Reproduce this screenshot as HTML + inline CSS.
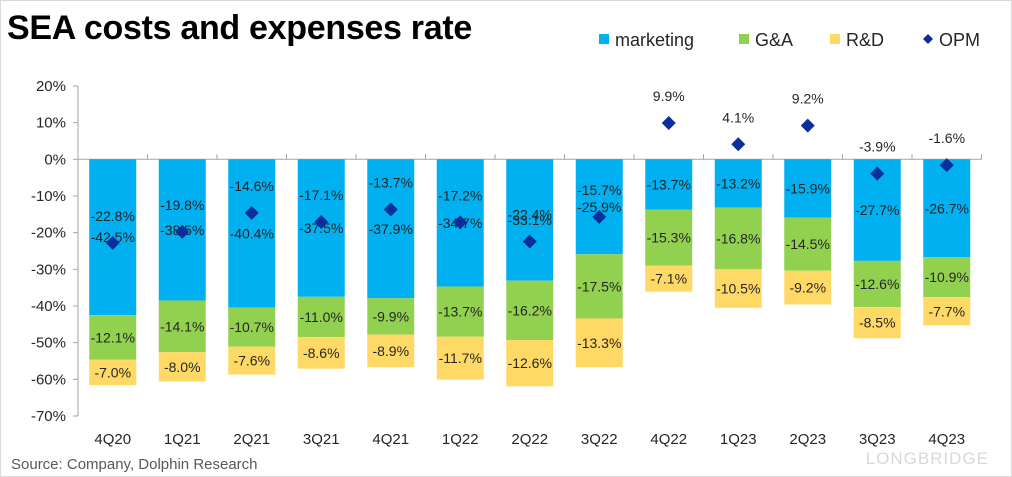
<!DOCTYPE html>
<html><head><meta charset="utf-8"><style>
html,body{margin:0;padding:0;background:#fff}
#wrap{position:relative;width:1010px;height:475px;border:1px solid #d9d9d9;overflow:hidden;font-family:"Liberation Sans",sans-serif}
#title{position:absolute;left:6px;top:8px;font-size:34px;font-weight:bold;color:#000;letter-spacing:-0.3px}
#src{position:absolute;left:10px;top:455px;font-size:15px;color:#595959}
#lb{position:absolute;right:22px;top:448px;font-size:17px;color:#d8d8d8;letter-spacing:1px}
</style></head><body>
<div id="wrap">
<div id="title">SEA costs and expenses rate</div>
<svg id="chart" width="1010" height="475" style="position:absolute;left:0;top:0"></svg>
<div id="src">Source: Company, Dolphin Research</div>
<div id="lb">LONGBRIDGE</div>
</div>
<script>
const categories=["4Q20","1Q21","2Q21","3Q21","4Q21","1Q22","2Q22","3Q22","4Q22","1Q23","2Q23","3Q23","4Q23"];
const marketing=[42.5,38.5,40.4,37.5,37.9,34.7,33.1,25.9,13.7,13.2,15.9,27.7,26.7];
const ga=[12.1,14.1,10.7,11.0,9.9,13.7,16.2,17.5,15.3,16.8,14.5,12.6,10.9];
const rd=[7.0,8.0,7.6,8.6,8.9,11.7,12.6,13.3,7.1,10.5,9.2,8.5,7.7];
const opm=[-22.8,-19.8,-14.6,-17.1,-13.7,-17.2,-22.4,-15.7,9.9,4.1,9.2,-3.9,-1.6];
const yTicks=[20,10,0,-10,-20,-30,-40,-50,-60,-70];
const NS="http://www.w3.org/2000/svg";
const svg=document.getElementById('chart');
const left=77,catW=69.5,barW=47;
function y(v){return 158.3-v*3.667;}
function cx(i){return left+catW*(i+0.5);}
function mk(t,a,txt){const e=document.createElementNS(NS,t);for(const k in a)e.setAttribute(k,a[k]);if(txt!==undefined)e.textContent=txt;svg.appendChild(e);return e;}
let ax=mk('line',{x1:left,x2:left,y1:y(20),y2:y(-70),stroke:'#a6a6a6'});


yTicks.forEach(t=>{
 let tk=mk('line',{x1:left-5,x2:left,y1:y(t),y2:y(t),stroke:'#a6a6a6'});
 
 
 let l=mk('text',{x:left-12,y:y(t)+5,'text-anchor':'end','font-size':15,fill:'#262626'},t+'%');
 
 
});
let xa=mk('line',{x1:left,x2:left+catW*13,y1:y(0),y2:y(0),stroke:'#a6a6a6'});


const fmt=v=>v.toFixed(1)+'%';
categories.forEach((c,i)=>{
 let tk=mk('line',{x1:left+catW*(i+1),x2:left+catW*(i+1),y1:y(0),y2:y(0)-5,stroke:'#a6a6a6'});
 
 
 let cl=mk('text',{x:cx(i),y:443,'text-anchor':'middle','font-size':15,fill:'#262626'},c);
 
 
 const segs=[[marketing[i],'#00b0f0','bar-marketing'],[ga[i],'#92d050','bar-ga'],[rd[i],'#ffd966','bar-rd']];
 let base=0;
 segs.forEach(s=>{
  const t=y(-base),b=y(-(base+s[0]));
  let r=mk('rect',{x:cx(i)-barW/2,y:t,width:barW,height:b-t,fill:s[1]});
  
  
  let l=mk('text',{x:cx(i),y:(t+b)/2+5,'text-anchor':'middle','font-size':14,fill:'#262626'},fmt(-s[0]));
  
  
  base+=s[0];
 });
});
categories.forEach((c,i)=>{
 const py=y(opm[i]),px=cx(i);
 let d=mk('polygon',{points:`${px},${py-7} ${px+7},${py} ${px},${py+7} ${px-7},${py}`,fill:'#0a2f9c'});
 
 
 let l=mk('text',{x:px,y:py-22,'text-anchor':'middle','font-size':14,fill:'#262626'},fmt(opm[i]));
 
 
});
const leg=[['marketing','#00b0f0',598,'sq'],['G&A','#92d050',738,'sq'],['R&D','#ffd966',829,'sq'],['OPM','#0a2f9c',922,'dm']];
leg.forEach(L=>{
 if(L[3]=='sq'){let s=mk('rect',{x:L[2],y:33,width:10,height:10,fill:L[1]});}
 else{let s=mk('polygon',{points:`${L[2]+5},${33} ${L[2]+10},${38} ${L[2]+5},${43} ${L[2]},${38}`,fill:L[1]});}
 let t=mk('text',{x:L[2]+16,y:45,'font-size':18,fill:'#262626'},L[0]);
 
 
});
</script>
</body></html>
